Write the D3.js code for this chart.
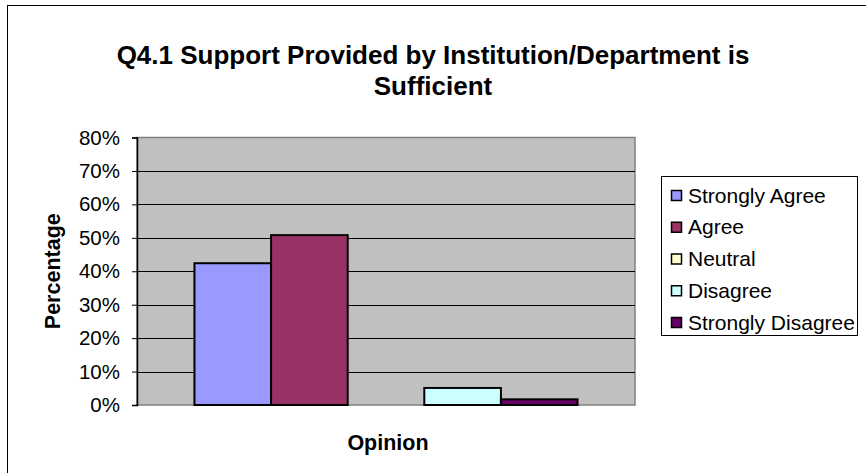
<!DOCTYPE html>
<html>
<head>
<meta charset="utf-8">
<script src="https://cdn.jsdelivr.net/npm/d3@7"></script>
<style>
  html, body { margin: 0; padding: 0; background: #fff; }
  svg { display: block; font-family: "Liberation Sans", Arial, sans-serif; }
</style>
</head>
<body>
<svg id="chart" width="866" height="473"></svg>
<script>
// Survey responses, share of respondents per answer
const categories = ["Opinion"];
const seriesNames = ["Strongly Agree", "Agree", "Neutral", "Disagree", "Strongly Disagree"];
const seriesValues = [0.424, 0.508, 0.0, 0.051, 0.017];
const seriesColors = ["#9999FF", "#993366", "#FFFFCC", "#CCFFFF", "#660066"];
const yTicks = [0, 0.1, 0.2, 0.3, 0.4, 0.5, 0.6, 0.7, 0.8];
const titleLines = ["Q4.1 Support Provided by Institution/Department is", "Sufficient"];
const xTitle = "Opinion";
const yTitle = "Percentage";

const svg = d3.select("#chart");

// outer chart frame
svg.append("rect")
  .attr("x", 7.5).attr("y", 5.5)
  .attr("width", 900).attr("height", 500)
  .attr("fill", "#fff").attr("stroke", "#000").attr("stroke-width", 1);

const plot = { left: 137, top: 137.5, right: 635, bottom: 405 };

const y = d3.scaleLinear().domain([0, 0.8]).range([plot.bottom, plot.top]);

// one category band, clustered series inside it (gap width 150%)
const x0 = d3.scaleBand().domain(categories).range([plot.left, plot.right])
  .paddingInner(0).paddingOuter(0);
const nBars = seriesNames.length;
const barW = x0.bandwidth() / (nBars + 1.5);
const x1 = d3.scaleBand().domain(seriesNames)
  .range([x0(categories[0]) + barW * 0.75, x0(categories[0]) + x0.bandwidth() - barW * 0.75]);

// plot background
svg.append("rect")
  .attr("x", plot.left).attr("y", plot.top)
  .attr("width", plot.right - plot.left).attr("height", plot.bottom - plot.top)
  .attr("fill", "#C0C0C0").attr("stroke", "#808080").attr("stroke-width", 1.5);

// horizontal gridlines
svg.append("g").selectAll("line")
  .data(yTicks.filter(t => t > 0 && t < 0.8))
  .join("line")
  .attr("x1", plot.left).attr("x2", plot.right)
  .attr("y1", d => Math.round(y(d)) + 0.5).attr("y2", d => Math.round(y(d)) + 0.5)
  .attr("stroke", "#000").attr("stroke-width", 1);

// bars
svg.append("g").selectAll("rect")
  .data(seriesNames.map((s, i) => ({ name: s, value: seriesValues[i], color: seriesColors[i] })))
  .join("rect")
  .attr("x", d => x1(d.name))
  .attr("y", d => y(d.value))
  .attr("width", x1.bandwidth())
  .attr("height", d => y(0) - y(d.value))
  .attr("fill", d => d.color)
  .attr("stroke", "#000")
  .attr("stroke-width", d => d.value > 0 ? 2 : 0);

// y axis
const yAxis = d3.axisLeft(y).tickValues(yTicks).tickFormat(d3.format(".0%"))
  .tickSize(5).tickPadding(12);
const gy = svg.append("g").attr("transform", `translate(${plot.left},0)`).call(yAxis);
gy.select(".domain").attr("stroke", "#000").attr("stroke-width", 1.5);
gy.selectAll(".tick line").attr("stroke", "#000");
gy.selectAll(".tick text")
  .attr("font-family", "Liberation Sans, Arial, sans-serif")
  .attr("font-size", 20.5).attr("fill", "#000");

// titles
const title = svg.append("text")
  .attr("text-anchor", "middle")
  .attr("font-size", 26).attr("font-weight", "bold").attr("fill", "#000");
titleLines.forEach((t, i) => {
  title.append("tspan").attr("x", 433).attr("y", 64 + i * 30.5).text(t);
});

svg.append("text")
  .attr("x", (plot.left + plot.right) / 2 + 2).attr("y", 450)
  .attr("text-anchor", "middle")
  .attr("font-size", 21.5).attr("font-weight", "bold").attr("fill", "#000")
  .text(xTitle);

svg.append("text")
  .attr("transform", `translate(60,${(plot.top + plot.bottom) / 2}) rotate(-90)`)
  .attr("text-anchor", "middle")
  .attr("font-size", 21.5).attr("font-weight", "bold").attr("fill", "#000")
  .text(yTitle);

// legend
const legend = svg.append("g");
legend.append("rect")
  .attr("x", 661.5).attr("y", 176.5).attr("width", 196).attr("height", 159)
  .attr("fill", "#fff").attr("stroke", "#000").attr("stroke-width", 1);
const rowY = d3.scalePoint().domain(seriesNames).range([195, 322]);
const item = legend.selectAll("g.item").data(seriesNames).join("g")
  .attr("class", "item")
  .attr("transform", d => `translate(0,${rowY(d)})`);
item.append("rect")
  .attr("x", 671.5).attr("y", -4.5).attr("width", 10).attr("height", 10)
  .attr("fill", (d, i) => seriesColors[i]).attr("stroke", "#000").attr("stroke-width", 1.5);
item.append("text")
  .attr("x", 688).attr("y", 7.5)
  .attr("font-size", 21).attr("fill", "#000")
  .text(d => d);
</script>
</body>
</html>
